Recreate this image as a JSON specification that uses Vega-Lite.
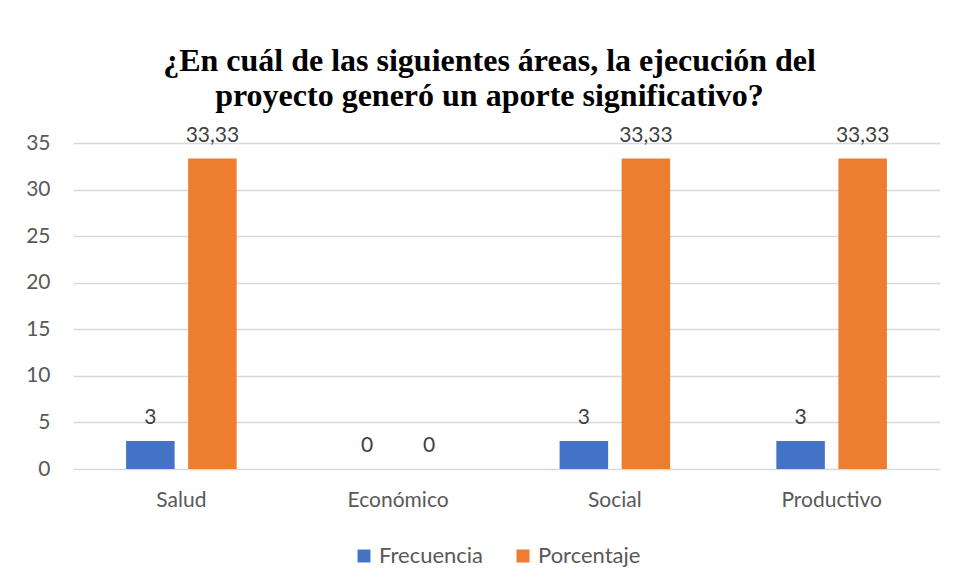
{
  "$schema": "https://vega.github.io/schema/vega-lite/v6.json",
  "width": 867,
  "height": 326,
  "autosize": {"type": "none"},
  "padding": {"left": 73, "top": 143, "right": 16, "bottom": 115},
  "background": "white",
  "title": {
    "text": ["¿En cuál de las siguientes áreas, la ejecución del", "proyecto generó un aporte significativo?"],
    "font": "Liberation Serif",
    "fontSize": 32,
    "fontWeight": "bold",
    "color": "#000000",
    "lineHeight": 35,
    "anchor": "middle",
    "frame": "group",
    "dx": -17,
    "offset": 12
  },
  "config": {
    "locale": {"number": {"decimal": ",", "thousands": ".", "grouping": [3], "currency": ["", " €"]}},
    "view": {"stroke": null},
    "axis": {"labelFont": "Lato", "labelFontSize": 21, "labelColor": "#595959", "domain": false, "ticks": false, "title": null}
  },
  "data": {
    "values": [
      {"area": "Salud", "serie": "Frecuencia", "valor": 3},
      {"area": "Salud", "serie": "Porcentaje", "valor": 33.33},
      {"area": "Económico", "serie": "Frecuencia", "valor": 0},
      {"area": "Económico", "serie": "Porcentaje", "valor": 0},
      {"area": "Social", "serie": "Frecuencia", "valor": 3},
      {"area": "Social", "serie": "Porcentaje", "valor": 33.33},
      {"area": "Productivo", "serie": "Frecuencia", "valor": 3},
      {"area": "Productivo", "serie": "Porcentaje", "valor": 33.33}
    ]
  },
  "encoding": {
    "x": {
      "field": "area",
      "type": "nominal",
      "sort": ["Salud", "Económico", "Social", "Productivo"],
      "scale": {"paddingInner": 0.49, "paddingOuter": 0.245},
      "axis": {"labelAngle": 0, "labelPadding": 20, "grid": false}
    },
    "xOffset": {
      "field": "serie",
      "type": "nominal",
      "sort": ["Frecuencia", "Porcentaje"],
      "scale": {"paddingInner": 0.218, "paddingOuter": 0}
    },
    "y": {
      "field": "valor",
      "type": "quantitative",
      "scale": {"domain": [0, 35], "nice": false},
      "axis": {"values": [0, 5, 10, 15, 20, 25, 30, 35], "labelPadding": 23, "grid": true, "gridColor": "#D9D9D9", "gridWidth": 1.3}
    }
  },
  "layer": [
    {
      "mark": {"type": "bar"},
      "encoding": {
        "color": {
          "field": "serie",
          "type": "nominal",
          "sort": ["Frecuencia", "Porcentaje"],
          "scale": {"domain": ["Frecuencia", "Porcentaje"], "range": ["#4472C4", "#ED7D31"]},
          "legend": {
            "title": null,
            "orient": "none",
            "direction": "horizontal",
            "legendX": 280,
            "legendY": 402,
            "padding": 0,
            "symbolType": "square",
            "symbolSize": 169,
            "symbolStrokeWidth": 0,
            "labelFont": "Lato",
            "labelFontSize": 22,
            "labelColor": "#595959",
            "labelOffset": 4,
            "columnPadding": 28
          }
        }
      }
    },
    {
      "mark": {"type": "text", "dy": -17, "baseline": "alphabetic", "font": "Lato", "fontSize": 21, "color": "#404040"},
      "encoding": {
        "text": {"field": "valor", "type": "quantitative", "format": ".2~f"}
      }
    }
  ]
}
